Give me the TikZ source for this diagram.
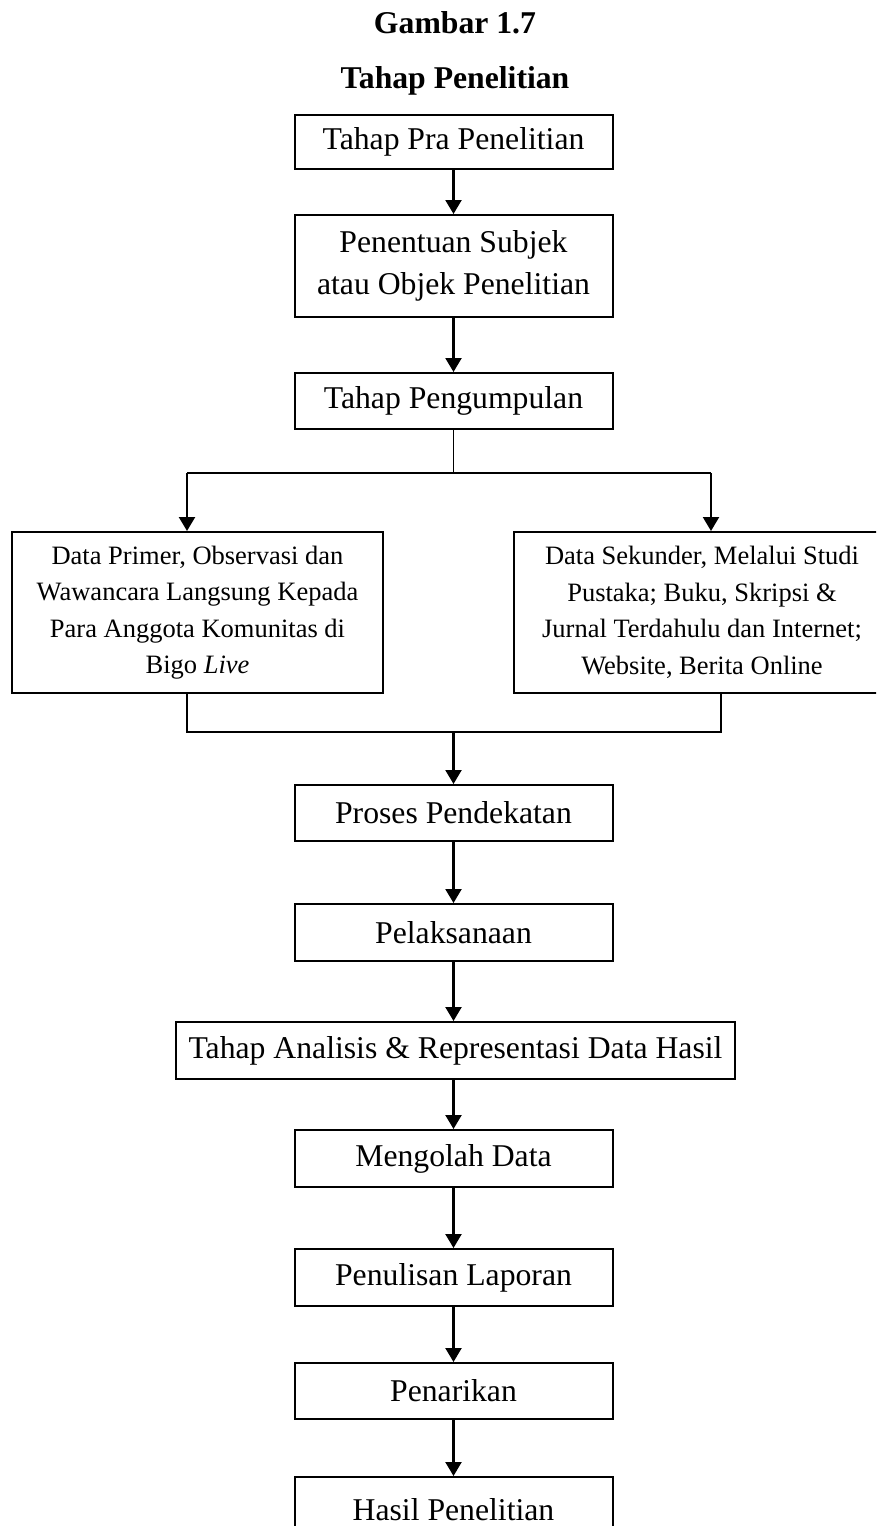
\documentclass[tikz,border=0pt]{standalone}
\usepackage{fontspec}
\setmainfont{Liberation Serif}
\usetikzlibrary{arrows.meta}
\newcommand{\mainsz}{\fontsize{31.7pt}{42pt}\selectfont}
\newcommand{\smallsz}{\fontsize{26.5pt}{36.5pt}\selectfont}
\tikzset{
  box/.style={draw, line width=2pt, minimum width=318pt, inner sep=0pt, align=center, font=\mainsz},
  sidebox/.style={draw, line width=2pt, inner sep=0pt, align=center, font=\smallsz},
  arr/.style={line width=2.2pt, -{Triangle[length=14pt,width=16pt]}},
  ln/.style={line width=1.6pt},
  ttl/.style={anchor=base, font=\bfseries\mainsz, inner sep=0pt},
}
\begin{document}
\begin{tikzpicture}[x=1pt, y=-1pt]
\useasboundingbox (0,0) rectangle (876,1526);
\clip (0,0) rectangle (876,1526);
\fill[white] (0,0) rectangle (876,1526);

\node[ttl] (t1) at (455,33) {Gambar 1.7};
\node[ttl] (t2) at (455,88) {Tahap Penelitian};

\node[box, minimum height=54pt] (b1) at (453.5,142) {Tahap Pra Penelitian};
\node[box, minimum height=102pt] (b2) at (453.5,266) {Penentuan Subjek\\atau Objek Penelitian};
\node[box, minimum height=56pt] (b3) at (453.5,401) {Tahap Pengumpulan};

\node[sidebox, minimum width=371pt, minimum height=161pt] (L) at (197.5,612.5)
  {Data Primer, Observasi dan\\Wawancara Langsung Kepada\\Para Anggota Komunitas di\\Bigo \textit{Live}};
\node[sidebox, minimum width=376pt, minimum height=161pt] (R) at (702,612.5)
  {Data Sekunder, Melalui Studi\\Pustaka; Buku, Skripsi \&\\Jurnal Terdahulu dan Internet;\\Website, Berita Online};

\node[box, minimum height=56pt] (b4) at (453.5,813) {Proses Pendekatan};
\node[box, minimum height=57pt] (b5) at (453.5,932.5) {Pelaksanaan};
\node[box, minimum width=559pt, minimum height=57pt] (b6) at (455.5,1050.5) {Tahap Analisis \& Representasi Data Hasil};
\node[box, minimum height=57pt] (b7) at (453.5,1158.5) {Mengolah Data};
\node[box, minimum height=57pt] (b8) at (453.5,1277.5) {Penulisan Laporan};
\node[box, minimum height=56pt] (b9) at (453.5,1391) {Penarikan};
\node[box, minimum height=66pt] (b10) at (453.5,1510) {Hasil Penelitian};

\draw[arr] (b1.south) -- (b2.north);
\draw[arr] (b2.south) -- (b3.north);

\coordinate (sm) at (453.5,473);
\coordinate (sl) at (187,473);
\coordinate (sr) at (711,473);
\draw[ln] (b3.south) -- (sm);
\draw[line width=2pt] (sl) -- (sr);
\draw[arr] (sl) -- (sl |- L.north);
\draw[arr] (sr) -- (sr |- R.north);

\coordinate (jl) at (187,732);
\coordinate (jr) at (721,732);
\coordinate (jm) at (453.5,732);
\draw[ln] (L.south -| jl) -- (jl) -- (jr) -- (R.south -| jr);
\draw[arr] (jm) -- (b4.north);

\draw[arr] (b4.south) -- (b5.north);
\draw[arr] (b5.south) -- (b6.north -| b5.south);
\draw[arr] (b6.south -| b7.north) -- (b7.north);
\draw[arr] (b7.south) -- (b8.north);
\draw[arr] (b8.south) -- (b9.north);
\draw[arr] (b9.south) -- (b10.north);
\end{tikzpicture}
\end{document}
